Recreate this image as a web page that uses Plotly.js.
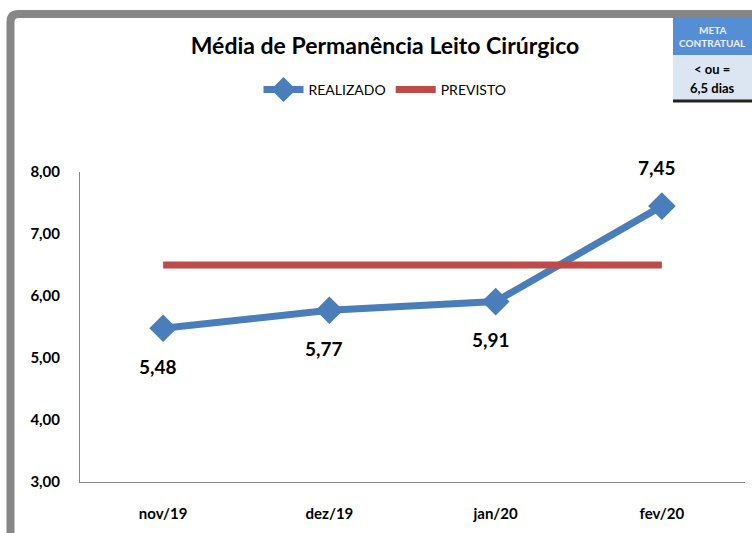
<!DOCTYPE html>
<html><head><meta charset="utf-8">
<script src="https://cdn.plot.ly/plotly-3.0.1.min.js"></script>
<style>html,body{margin:0;padding:0;background:#fff;overflow:hidden}#chart{width:752px;height:533px}</style>
</head><body><div id="chart"></div>
<script>
const categories = ["nov/19", "dez/19", "jan/20", "fev/20"];
const realizado = [5.48, 5.77, 5.91, 7.45];
const previsto = [6.5, 6.5, 6.5, 6.5];
const yTicks = [3, 4, 5, 6, 7, 8];
const yTickLabels = ["3,00", "4,00", "5,00", "6,00", "7,00", "8,00"];
const labelAbove = [false, false, false, true];

const W = 752, H = 533, L = 80, R = 745, T = 172, B = 482;
const px = x => (x - L) / (R - L);
const py = y => (B - y) / (B - T);
const fmt = v => v.toFixed(2).replace('.', ',');
const FONT = 'Lato, "Open Sans", sans-serif';

const traces = [
  {
    x: categories, y: realizado, name: 'REALIZADO', type: 'scatter', mode: 'lines+markers',
    line: {color: '#4a7ebb', width: 7},
    marker: {symbol: 'diamond', size: 18, color: '#4a7ebb', line: {color: '#4a7ebb', width: 3}},
    cliponaxis: false
  },
  {
    x: categories, y: previsto, name: 'PREVISTO', type: 'scatter', mode: 'lines',
    line: {color: '#be4b48', width: 7}
  }
];

const dataLabels = categories.map((c, i) => ({
  x: c, y: realizado[i], xref: 'x', yref: 'y', text: '<b>' + fmt(realizado[i]) + '</b>',
  showarrow: false, xshift: -5, yshift: labelAbove[i] ? 39 : -38,
  font: {family: FONT, size: 19, color: '#000'}, xanchor: 'center', yanchor: 'middle'
}));

const frame = `M ${px(10.5)} ${py(545)} L ${px(10.5)} ${py(22)} Q ${px(10.5)} ${py(14)} ${px(18.5)} ${py(14)} L ${px(760)} ${py(14)}`;

const layout = {
  width: W, height: H,
  margin: {l: L, r: W - R, t: T, b: H - B, pad: 0},
  paper_bgcolor: '#fff', plot_bgcolor: '#fff',
  font: {family: FONT, color: '#000'},
  showlegend: true,
  legend: {orientation: 'h', x: px(385), y: py(90), xanchor: 'center', yanchor: 'middle',
           font: {family: FONT, size: 14, color: '#000'}, itemwidth: 40, traceorder: 'normal'},
  xaxis: {type: 'category', range: [-0.5, 3.5], showgrid: false, zeroline: false,
          showline: true, linecolor: '#868686', linewidth: 1, ticks: '',
          ticklabelstandoff: 18, tickfont: {family: FONT, size: 15, weight: 'bold'}, fixedrange: true},
  yaxis: {range: [3, 8], tickvals: yTicks, ticktext: yTickLabels, showgrid: false, zeroline: false,
          showline: true, linecolor: '#868686', linewidth: 1, ticks: '',
          ticklabelstandoff: 16, tickfont: {family: FONT, size: 15, weight: 'bold'}, fixedrange: true},
  title: {text: 'Média de Permanência Leito Cirúrgico', xref: 'container', x: 385 / W, xanchor: 'center',
          yref: 'container', y: 1 - 46 / H, yanchor: 'middle', font: {family: FONT, size: 23, weight: 'bold', color: '#000'}},
  shapes: [
    {type: 'path', xref: 'paper', yref: 'paper', path: frame, line: {color: '#868686', width: 8}},
    {type: 'rect', xref: 'paper', yref: 'paper', x0: px(673), x1: px(760), y0: py(55), y1: py(17),
     fillcolor: '#558ed5', line: {width: 0}},
    {type: 'rect', xref: 'paper', yref: 'paper', x0: px(673), x1: px(760), y0: py(100), y1: py(55),
     fillcolor: '#dce6f2', line: {width: 0}},
    {type: 'line', xref: 'paper', yref: 'paper', x0: px(673), x1: px(760), y0: py(101), y1: py(101),
     line: {color: '#222', width: 3}}
  ],
  annotations: dataLabels.concat([
    {xref: 'paper', yref: 'paper', x: px(712), y: py(30), text: '<b>META</b>', showarrow: false,
     font: {family: FONT, size: 10, color: '#eef'}, xanchor: 'center', yanchor: 'middle'},
    {xref: 'paper', yref: 'paper', x: px(712), y: py(43), text: '<b>CONTRATUAL</b>', showarrow: false,
     font: {family: FONT, size: 10, color: '#eef'}, xanchor: 'center', yanchor: 'middle'},
    {xref: 'paper', yref: 'paper', x: px(712), y: py(69), text: '<b>&lt; ou =</b>', showarrow: false,
     font: {family: FONT, size: 13, color: '#000'}, xanchor: 'center', yanchor: 'middle'},
    {xref: 'paper', yref: 'paper', x: px(712), y: py(88), text: '<b>6,5 dias</b>', showarrow: false,
     font: {family: FONT, size: 13, color: '#000'}, xanchor: 'center', yanchor: 'middle'}
  ])
};

Plotly.newPlot('chart', traces, layout, {displayModeBar: false, staticPlot: true});
</script></body></html>
